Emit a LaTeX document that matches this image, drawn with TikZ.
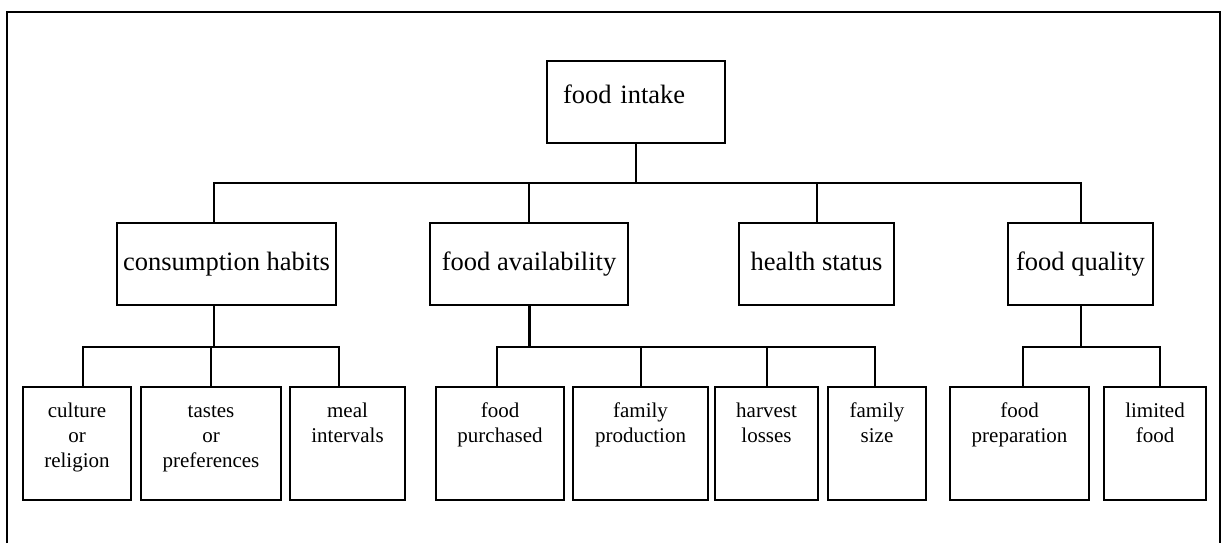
\documentclass[tikz,border=0pt]{standalone}
\usepackage{fontspec}
\setmainfont{Liberation Serif}
\usetikzlibrary{positioning}
\tikzset{
  box/.style   = {shape=rectangle, draw, line width=2pt, inner sep=0pt, outer sep=0pt},
  head/.style  = {box, font=\fontsize{26.5}{30}\selectfont,
                  minimum height=82pt, text height=18pt, text depth=16pt,
                  align=left, inner xsep=16pt, text width=146pt},
  mid/.style   = {box, font=\fontsize{26.5}{30}\selectfont,
                  minimum height=82pt, text height=18pt, text depth=6pt},
  leaf/.style  = {box, font=\fontsize{21}{25}\selectfont, align=center,
                  text height=30pt, text depth=83pt},
  link/.style  = {draw, line width=2pt},
  bold/.style  = {draw, line width=3pt},
  frame/.style = {line width=2pt}
}

\begin{document}
\begin{tikzpicture}[x=1pt, y=-1pt]
  \useasboundingbox (0,0) rectangle (1225,543);
  % outer frame, open at the bottom
  \draw[frame] (7,543) -- (7,12) -- (1220,12) -- (1220,543);

  % top and second level
  \node[head] (intake) at (636,102) {food intake};
  \node[mid, minimum width=219pt] (habits) at (226.5,264) {consumption habits};
  \node[mid, minimum width=198pt] (avail) at (529,264) {food availability};
  \node[mid, minimum width=155pt] (health) at (816.5,264) {health status};
  \node[mid, minimum width=145pt] (quality) at (1080.5,264) {food quality};

  % third level
  \node[leaf, text width=108pt] (culture) at (77,443.5) {culture\\or\\religion};
  \node[leaf, text width=140pt, right=10pt of culture] (tastes) {tastes\\or\\preferences};
  \node[leaf, text width=115pt, right=9pt of tastes] (meal) {meal\\intervals};
  \node[leaf, text width=128pt] (purchased) at (500,443.5) {food\\purchased};
  \node[leaf, text width=135pt, right=9pt of purchased] (production) {family\\production};
  \node[leaf, text width=103pt, right=7pt of production] (harvest) {harvest\\losses};
  \node[leaf, text width=98pt, right=10pt of harvest] (famsize) {family\\size};
  \node[leaf, text width=139pt] (preparation) at (1019.5,443.5) {food\\preparation};
  \node[leaf, text width=102pt, right=15pt of preparation] (limited) {limited\\food};

  % junctions
  \coordinate (mainjoin) at (636,183);
  \coordinate (habitsjoin) at (214,347);

  % connectors from the top
  \draw[link] (intake.south) -- (mainjoin);
  \draw[link] ([xshift=-12.5pt]habits.north) |- (mainjoin) -| (quality.north);
  \draw[link] (avail.north) -- (avail.north |- mainjoin);
  \draw[link] (health.north) -- (health.north |- mainjoin);

  % consumption habits
  \draw[link] ([xshift=-12.5pt]habits.south) -- (habitsjoin);
  \draw[link] ([xshift=6pt]culture.north) |- (habitsjoin) -| ([xshift=-8.5pt]meal.north);
  \draw[link] (tastes.north) -- (tastes.north |- habitsjoin);

  % food availability
  \draw[bold] (avail.south) -- (avail.south |- habitsjoin);
  \draw[link] ([xshift=-3pt]purchased.north) |- (habitsjoin -| avail.south) -| ([xshift=-2pt]famsize.north);
  \draw[link] (production.north) -- (production.north |- habitsjoin);
  \draw[link] (harvest.north) -- (harvest.north |- habitsjoin);

  % food quality
  \draw[link] (quality.south) -- (quality.south |- habitsjoin);
  \draw[link] ([xshift=3.5pt]preparation.north) |- (habitsjoin -| quality.south) -| ([xshift=5pt]limited.north);
\end{tikzpicture}
\end{document}
